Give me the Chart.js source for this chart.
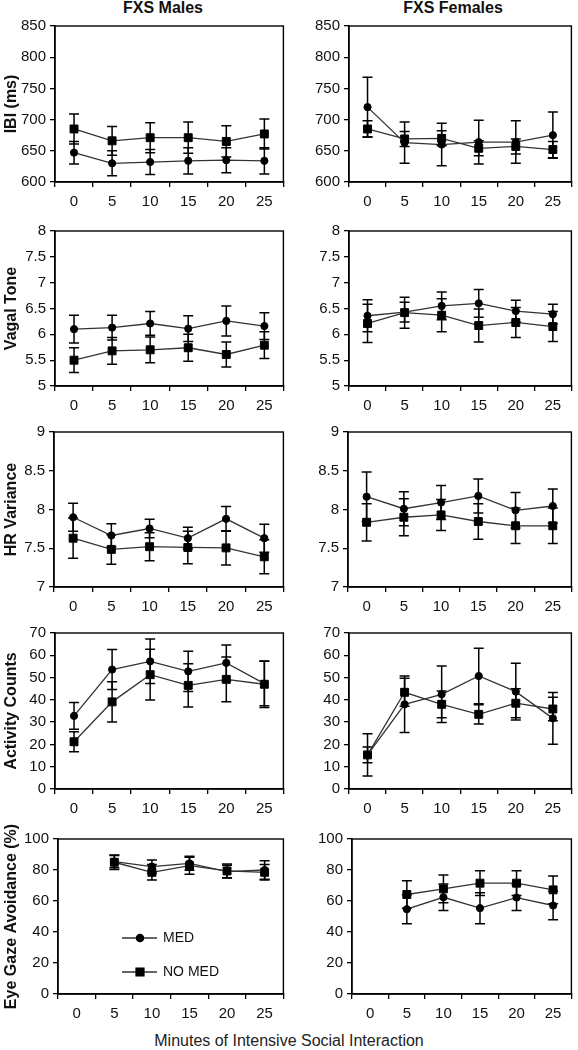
<!DOCTYPE html>
<html>
<head>
<meta charset="utf-8">
<script src="https://cdn.jsdelivr.net/npm/chart.js@4.4.1/dist/chart.umd.min.js"></script>
<style>
    body { margin: 0; background: #fff; }
    #fig { position: relative; width: 578px; height: 1050px; font-family: "Liberation Sans", Arial, sans-serif; color: #111; }
    .coltitle { position: absolute; top: -1px; width: 200px; text-align: center; font-weight: bold; font-size: 16px; }
    #xtitle { position: absolute; left: 0; width: 578px; top: 1032px; text-align: center; font-size: 16px; color: #222; }
    .panel { position: absolute; }
</style>
</head>
<body>
<div id="fig">
    <div class="coltitle" style="left:63px">FXS Males</div>
    <div class="coltitle" style="left:353px">FXS Females</div>
    <div id="xtitle">Minutes of Intensive Social Interaction</div>
</div>
<script>
// categories
const minutes = ['0', '5', '10', '15', '20', '25'];
const seriesNames = ['MED', 'NO MED'];

// IBI (ms)
const ibiMaleMed = [647, 630, 632, 634, 635, 634];
const ibiMaleMedErr = [18, 20, 20, 21, 20, 21];
const ibiMaleNoMed = [685, 666, 671, 671, 665, 677];
const ibiMaleNoMedErr = [24, 23, 24, 25, 25, 24];
const ibiFemaleMed = [720, 663, 660, 664, 664, 675];
const ibiFemaleMedErr = [48, 33, 34, 35, 34, 37];
const ibiFemaleNoMed = [685, 669, 670, 654, 657, 652];
const ibiFemaleNoMedErr = [13, 12, 12, 12, 12, 13];

// Vagal tone
const vagalMaleMed = [6.10, 6.13, 6.21, 6.11, 6.26, 6.16];
const vagalMaleMedErr = [0.27, 0.24, 0.23, 0.25, 0.29, 0.26];
const vagalMaleNoMed = [5.50, 5.68, 5.70, 5.74, 5.61, 5.79];
const vagalMaleNoMedErr = [0.24, 0.26, 0.25, 0.26, 0.24, 0.26];
const vagalFemaleMed = [6.36, 6.43, 6.55, 6.60, 6.45, 6.39];
const vagalFemaleMedErr = [0.31, 0.19, 0.27, 0.27, 0.21, 0.19];
const vagalFemaleNoMed = [6.21, 6.42, 6.37, 6.17, 6.23, 6.15];
const vagalFemaleNoMedErr = [0.37, 0.30, 0.32, 0.32, 0.29, 0.29];

// HR variance
const hrMaleMed = [7.90, 7.665, 7.755, 7.63, 7.88, 7.63];
const hrMaleMedErr = [0.18, 0.15, 0.12, 0.14, 0.16, 0.18];
const hrMaleNoMed = [7.63, 7.485, 7.52, 7.51, 7.505, 7.39];
const hrMaleNoMedErr = [0.26, 0.19, 0.18, 0.21, 0.22, 0.22];
const hrFemaleMed = [8.165, 8.01, 8.09, 8.175, 7.99, 8.045];
const hrFemaleMedErr = [0.32, 0.22, 0.22, 0.22, 0.23, 0.22];
const hrFemaleNoMed = [7.835, 7.90, 7.93, 7.845, 7.79, 7.79];
const hrFemaleNoMedErr = [0.24, 0.24, 0.20, 0.23, 0.23, 0.23];

// Activity counts
const actMaleMed = [32.8, 53.6, 57.3, 52.8, 56.6, 47.3];
const actMaleMedErr = [6, 9, 10, 9, 8, 10];
const actMaleNoMed = [21.2, 39.1, 51.3, 46.5, 49.2, 47.0];
const actMaleNoMedErr = [4.5, 9, 11.4, 9.7, 10, 10.4];
const actFemaleMed = [15.3, 38.0, 42.5, 50.7, 43.7, 31.7];
const actFemaleMedErr = [9.5, 12.7, 12.7, 12.5, 12.7, 11.6];
const actFemaleNoMed = [15.3, 43.4, 38.0, 33.5, 38.5, 35.9];
const actFemaleNoMedErr = [3.5, 6.3, 6.0, 4.3, 6.5, 5.3];

// Eye gaze avoidance (%), no value at minute 0
const eyeMaleMed = [null, 85.4, 82.2, 84.3, 79.0, 80.0];
const eyeMaleMedErr = [0, 4, 4.3, 4.5, 4, 6];
const eyeMaleNoMed = [null, 85.0, 78.5, 82.8, 79.4, 78.5];
const eyeMaleNoMedErr = [0, 4.7, 5, 5.5, 4.5, 5];
const eyeFemaleMed = [null, 54.7, 62.4, 55.4, 62.2, 57.1];
const eyeFemaleMedErr = [0, 9.4, 8.6, 10, 8.3, 9.2];
const eyeFemaleNoMed = [null, 64.2, 67.8, 71.5, 71.5, 67.2];
const eyeFemaleNoMedErr = [0, 8.8, 9, 8, 8, 9];

// y axis ranges: [min, max, step]
const ibiRange = [600, 850, 50];
const vagalRange = [5, 8, 0.5];
const hrRange = [7, 9, 0.5];
const actRange = [0, 70, 10];
const eyeRange = [0, 100, 20];

const yTitles = ['IBI (ms)', 'Vagal Tone', 'HR Variance', 'Activity Counts', 'Eye Gaze Avoidance (%)'];

const panels = [
    { row: 0, col: 0, range: ibiRange, med: ibiMaleMed, medErr: ibiMaleMedErr, noMed: ibiMaleNoMed, noMedErr: ibiMaleNoMedErr },
    { row: 0, col: 1, range: ibiRange, med: ibiFemaleMed, medErr: ibiFemaleMedErr, noMed: ibiFemaleNoMed, noMedErr: ibiFemaleNoMedErr },
    { row: 1, col: 0, range: vagalRange, med: vagalMaleMed, medErr: vagalMaleMedErr, noMed: vagalMaleNoMed, noMedErr: vagalMaleNoMedErr },
    { row: 1, col: 1, range: vagalRange, med: vagalFemaleMed, medErr: vagalFemaleMedErr, noMed: vagalFemaleNoMed, noMedErr: vagalFemaleNoMedErr },
    { row: 2, col: 0, range: hrRange, med: hrMaleMed, medErr: hrMaleMedErr, noMed: hrMaleNoMed, noMedErr: hrMaleNoMedErr },
    { row: 2, col: 1, range: hrRange, med: hrFemaleMed, medErr: hrFemaleMedErr, noMed: hrFemaleNoMed, noMedErr: hrFemaleNoMedErr },
    { row: 3, col: 0, range: actRange, med: actMaleMed, medErr: actMaleMedErr, noMed: actMaleNoMed, noMedErr: actMaleNoMedErr },
    { row: 3, col: 1, range: actRange, med: actFemaleMed, medErr: actFemaleMedErr, noMed: actFemaleNoMed, noMedErr: actFemaleNoMedErr },
    { row: 4, col: 0, range: eyeRange, med: eyeMaleMed, medErr: eyeMaleMedErr, noMed: eyeMaleNoMed, noMedErr: eyeMaleNoMedErr, legend: true },
    { row: 4, col: 1, range: eyeRange, med: eyeFemaleMed, medErr: eyeFemaleMedErr, noMed: eyeFemaleNoMed, noMedErr: eyeFemaleNoMedErr }
];

// layout of the plot boxes (page pixels)
const rowTops = [26, 231, 432, 633, 839];
const rowBottoms = [182, 386, 587, 789, 994];
const colX = [0, 290];
const colW = [290, 288];
const plotLefts = [[55, 349], [55, 349], [54, 348], [55, 349], [58, 352]];
const plotRights = [287, 576];
const padTop = 22;

const ink = '#111';
const lineInk = '#333';
const fontFam = '"Liberation Sans", Arial, sans-serif';
Chart.defaults.font.family = fontFam;
Chart.defaults.color = ink;

const errorBars = {
    id: 'errorBars',
    beforeDatasetsDraw(chart) {
        const { ctx } = chart;
        const yScale = chart.scales.y;
        ctx.save();
        ctx.strokeStyle = '#000';
        ctx.lineWidth = 1.5;
        chart.data.datasets.forEach((ds, i) => {
            const meta = chart.getDatasetMeta(i);
            ds.data.forEach((v, j) => {
                if (v === null) return;
                const e = ds.errors[j];
                const x = meta.data[j].x;
                const yHi = yScale.getPixelForValue(v + e);
                const yLo = yScale.getPixelForValue(v - e);
                ctx.beginPath();
                ctx.moveTo(x, yHi); ctx.lineTo(x, yLo);
                ctx.moveTo(x - 5, yHi); ctx.lineTo(x + 5, yHi);
                ctx.moveTo(x - 5, yLo); ctx.lineTo(x + 5, yLo);
                ctx.stroke();
            });
        });
        ctx.restore();
    }
};

const frame = {
    id: 'frame',
    afterDraw(chart) {
        const { ctx, chartArea: a } = chart;
        ctx.save();
        ctx.strokeStyle = '#000';
        ctx.lineWidth = 1.4;
        ctx.strokeRect(a.left, a.top, a.right - a.left, a.bottom - a.top);
        ctx.restore();
    }
};

const medLegend = {
    id: 'medLegend',
    afterDraw(chart, args, opts) {
        if (!opts.show) return;
        const { ctx, chartArea } = chart;
        chart.data.datasets.forEach((ds, i) => {
            const x0 = chartArea.left + 64;
            const y = chartArea.top + opts.rows[i];
            ctx.save();
            ctx.strokeStyle = lineInk;
            ctx.lineWidth = 1.3;
            ctx.beginPath(); ctx.moveTo(x0, y); ctx.lineTo(x0 + 35, y); ctx.stroke();
            ctx.fillStyle = '#000';
            ctx.strokeStyle = '#000';
            Chart.helpers.drawPoint(ctx, { pointStyle: ds.pointStyle, radius: ds.pointRadius, borderWidth: 1, rotation: 0 }, x0 + 18, y);
            ctx.fillStyle = ink;
            ctx.font = '14px ' + fontFam;
            ctx.textBaseline = 'middle';
            ctx.fillText(ds.label, x0 + 41, y);
            ctx.restore();
        });
    }
};

const fig = document.getElementById('fig');

panels.forEach(p => {
    const top = rowTops[p.row] - padTop;
    const height = rowBottoms[p.row] - rowTops[p.row] + padTop + 30;
    const left = colX[p.col];
    const width = colW[p.col];
    const yWidth = plotLefts[p.row][p.col] - left;
    const padRight = left + width - plotRights[p.col];

    const canvas = document.createElement('canvas');
    canvas.className = 'panel';
    canvas.width = width;
    canvas.height = height;
    canvas.style.left = left + 'px';
    canvas.style.top = top + 'px';
    canvas.style.width = width + 'px';
    canvas.style.height = height + 'px';
    fig.appendChild(canvas);

    new Chart(canvas, {
        type: 'line',
        data: {
            labels: minutes,
            datasets: [{
                label: seriesNames[0],
                data: p.med,
                errors: p.medErr,
                borderColor: lineInk,
                borderWidth: 1.3,
                pointStyle: 'circle',
                pointRadius: 3.6,
                pointBackgroundColor: '#000',
                pointBorderColor: '#000',
                pointBorderWidth: 1,
                fill: false,
                tension: 0
            }, {
                label: seriesNames[1],
                data: p.noMed,
                errors: p.noMedErr,
                borderColor: lineInk,
                borderWidth: 1.3,
                pointStyle: 'rect',
                pointRadius: 5.6,
                pointBackgroundColor: '#000',
                pointBorderColor: '#000',
                pointBorderWidth: 1,
                fill: false,
                tension: 0
            }]
        },
        options: {
            responsive: false,
            animation: false,
            layout: { padding: { top: padTop, left: 0, right: padRight, bottom: 0 } },
            plugins: {
                legend: { display: false },
                tooltip: { enabled: false },
                medLegend: { show: !!p.legend, rows: [99, 133] }
            },
            scales: {
                x: {
                    offset: true,
                    grid: { offset: true, drawOnChartArea: false, drawTicks: true, tickLength: 5, color: '#000', lineWidth: 1.3 },
                    border: { display: true, color: '#000', width: 1.4 },
                    ticks: { font: { size: 15 }, color: ink, padding: 6, maxRotation: 0 },
                    afterFit(scale) { scale.height = 30; }
                },
                y: {
                    min: p.range[0],
                    max: p.range[1],
                    grid: { drawOnChartArea: false, drawTicks: true, tickLength: 5, color: '#000', lineWidth: 1.3 },
                    border: { display: true, color: '#000', width: 1.4 },
                    ticks: { stepSize: p.range[2], font: { size: 15 }, color: ink, padding: 4, callback: v => String(v) },
                    title: {
                        display: p.col === 0,
                        text: yTitles[p.row],
                        font: { size: 16, weight: 'bold' },
                        color: ink,
                        padding: { top: 2, bottom: 0 }
                    },
                    afterFit(scale) { scale.width = yWidth; }
                }
            }
        },
        plugins: [errorBars, frame, medLegend]
    });
});
</script>
</body>
</html>
